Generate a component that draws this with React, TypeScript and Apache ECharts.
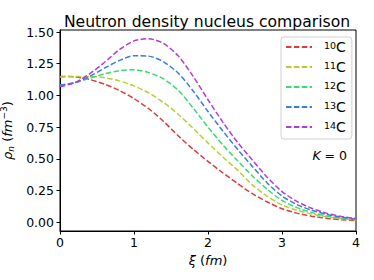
import React, { useEffect, useRef } from "react";
import * as echarts from "echarts";

const xi = [0, 0.2, 0.4, 0.6, 0.8, 1.0, 1.2, 1.4, 1.6, 1.8, 2.0, 2.2, 2.4, 2.6, 2.8, 3.0, 3.2, 3.4, 3.6, 3.8, 4.0];
const rho10C = [1.15, 1.146, 1.126, 1.09, 1.04, 0.975, 0.895, 0.795, 0.68, 0.575, 0.48, 0.39, 0.305, 0.225, 0.16, 0.107, 0.072, 0.048, 0.031, 0.02, 0.012];
const rho11C = [1.146, 1.15, 1.15, 1.14, 1.115, 1.075, 1.02, 0.945, 0.85, 0.74, 0.625, 0.515, 0.41, 0.295, 0.205, 0.137, 0.095, 0.065, 0.043, 0.028, 0.017];
const rho12C = [1.08, 1.1, 1.135, 1.17, 1.195, 1.203, 1.18, 1.13, 1.04, 0.9, 0.75, 0.61, 0.485, 0.365, 0.26, 0.172, 0.115, 0.078, 0.05, 0.032, 0.02];
const rho13C = [1.082, 1.1, 1.15, 1.215, 1.275, 1.313, 1.31, 1.265, 1.175, 1.035, 0.873, 0.72, 0.575, 0.44, 0.31, 0.207, 0.14, 0.095, 0.062, 0.04, 0.025];
const rho14C = [1.07, 1.1, 1.17, 1.26, 1.36, 1.43, 1.447, 1.41, 1.31, 1.15, 0.966, 0.79, 0.63, 0.49, 0.355, 0.242, 0.165, 0.11, 0.072, 0.046, 0.03];

const names = ["10C", "11C", "12C", "13C", "14C"];
const seriesValues = [rho10C, rho11C, rho12C, rho13C, rho14C];
const colors = ["#dc3c3c", "#b5cf3a", "#3ada73", "#3a7ddb", "#b53adb"];
const yTicks = [0, 0.25, 0.5, 0.75, 1.0, 1.25, 1.5];
const xTicks = [0, 1, 2, 3, 4];

const FONT = "DejaVu Sans";

export default function App() {
  const ref = useRef<HTMLDivElement>(null);
  useEffect(() => {
    if (!ref.current) return;
    const chart = echarts.init(ref.current, undefined, { renderer: "svg" });
    chart.setOption({
      animation: false,
      backgroundColor: "#ffffff",
      title: {
        text: "Neutron density nucleus comparison",
        left: 202,
        top: 9,
        textAlign: "center",
        textStyle: { fontFamily: FONT, fontSize: 15.6, fontWeight: "normal", color: "#000" },
      },
      grid: {
        left: 60,
        top: 30,
        right: 18,
        bottom: 49,
        containLabel: false,
        outerBoundsMode: "none",
        show: true,
        borderColor: "#000",
        borderWidth: 1,
        backgroundColor: "transparent",
      },
      legend: {
        orient: "vertical",
        left: 281,
        top: 37,
        itemWidth: 26,
        itemHeight: 10,
        itemGap: 6,
        padding: [3, 6, 5, 4],
        backgroundColor: "#fff",
        borderColor: "#d0d0d0",
        borderWidth: 1,
        borderRadius: 3,
        data: names,
        itemStyle: { color: "transparent", borderColor: "transparent", borderWidth: 0, opacity: 0 },
        formatter: (n: string) => `{sup|${n.slice(0, 2)}}{c|C}`,
        textStyle: {
          fontFamily: FONT,
          color: "#000",
          rich: {
            sup: { fontFamily: FONT, fontSize: 9.5, lineHeight: 14, verticalAlign: "top", padding: [0, 0, 0, 7], color: "#000" },
            c: { fontFamily: FONT, fontSize: 14, lineHeight: 14, verticalAlign: "bottom", color: "#000" },
          },
        },
      },
      xAxis: {
        type: "value",
        min: 0,
        max: 4,
        interval: 1,
        name: "{i|ξ}{n| (}{i|fm}{n|)}",
        nameLocation: "middle",
        nameGap: 19,
        nameTextStyle: {
          verticalAlign: "top",
          rich: {
            i: { fontFamily: FONT, fontStyle: "italic", fontSize: 13, color: "#000" },
            n: { fontFamily: FONT, fontSize: 13, color: "#000" },
          },
        },
        axisLine: { show: true, onZero: false, lineStyle: { color: "#000", width: 1 } },
        axisTick: { show: true, length: 3.5, lineStyle: { color: "#000" } },
        axisLabel: { fontFamily: FONT, fontSize: 12.5, color: "#000", margin: 5, customValues: xTicks },
        splitLine: { show: false },
      },
      yAxis: {
        type: "value",
        min: -0.069,
        max: 1.516,
        name: "{i|ρ}{sub|n}{n| (}{i|fm}{sup|−3}{n|)}",
        nameLocation: "middle",
        nameGap: 38,
        nameRotate: 90,
        nameTextStyle: {
          rich: {
            i: { fontFamily: FONT, fontStyle: "italic", fontSize: 13, lineHeight: 16, verticalAlign: "middle", color: "#000" },
            n: { fontFamily: FONT, fontSize: 13, lineHeight: 16, verticalAlign: "middle", color: "#000" },
            sub: { fontFamily: FONT, fontStyle: "italic", fontSize: 9, lineHeight: 16, verticalAlign: "bottom", color: "#000" },
            sup: { fontFamily: FONT, fontSize: 9, lineHeight: 16, verticalAlign: "top", color: "#000" },
          },
        },
        axisLine: { show: true, onZero: false, lineStyle: { color: "#000", width: 1 } },
        axisTick: { show: true, length: 3.5, lineStyle: { color: "#000" }, customValues: yTicks },
        axisLabel: {
          fontFamily: FONT,
          fontSize: 12.5,
          color: "#000",
          margin: 6,
          customValues: yTicks,
          formatter: (v: number) => v.toFixed(2),
        },
        splitLine: { show: false },
      },
      graphic: [
        {
          type: "text",
          x: 347,
          y: 155,
          style: {
            text: "{k|K}{n| = 0}",
            align: "right",
            verticalAlign: "middle",
            rich: {
              k: { fontFamily: FONT, fontStyle: "italic", fontSize: 12.5, fill: "#000" },
              n: { fontFamily: FONT, fontSize: 12.5, fill: "#000" },
            },
          },
          z: 10,
        },
      ],
      series: names.map((n, i) => ({
        name: n,
        type: "line",
        data: xi.map((x, j) => [x, seriesValues[i][j]]),
        symbol: "none",
        smooth: 0.25,
        color: colors[i],
        lineStyle: { color: colors[i], width: 1.5, type: [5.5, 2.4] },
      })),
    });
    return () => chart.dispose();
  }, []);
  return <div ref={ref} style={{ width: 374, height: 280, position: "absolute", left: 0, top: 0 }} />;
}
